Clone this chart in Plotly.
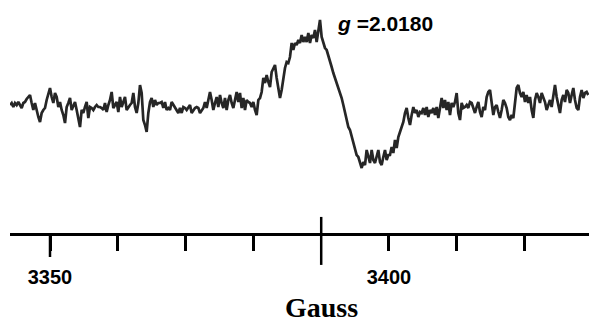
import numpy as np
import plotly.graph_objects as go

# EPR first-derivative spectrum, field sweep in Gauss
FIELD_START = 3344.1
FIELD_END = 3429.4

# signal intensity (arbitrary units), sampled along the sweep, in order
seg_a = [0, 2, -2, 2, 0, 3, 0, -3, 2, 3, 6, 8, 10, 2, -5, 2, -7, -12, -17, -8,
         -5, -3, 5, 12, 17, 8, 2, 12, 8, -2, 3, -5, -10, -18, -2, 2, 7, -5, 0, 3,
         -5, -12, -22, -5, -8, -2, 3, -13, -2, -3, -5, -2, 0, -2]
seg_b = [-2, -3, -5, 2, -7, 0, 5, 13, -3, 0, 3, -7, 8, -2, 3, 8, -5, -2, 0, 2,
         12, -2, -8, 2, 20, 12, -15, -20, -27, -8, 3, 7, -2, 5, 0, 2, 2, 3, -3, 3,
         -5, -3, -5, 3, 0, -3, -5, -8, -3, -8, -2, -3, -5, -2, 0, -8, -5, -3, -2, -3]
seg_c = [-8, -5, -3, 3, -3, 5, 13, 5, -5, 2, 8, -2, 10, 2, -3, 7, -5, 5, 10, 2,
         -3, 5, 13, 3, 12, -3, 7, -5, 5, 3, 2, -2, 3, -5, -10, 5, 7, 13, 27, 22,
         30, 23, 18, 33, 37, 40, 27, 18, 7, 15, 27, 37, 43, 42]
seg_d = [48, 62, 55, 62, 60, 65, 62, 70, 63, 68, 63, 72, 62, 70, 67, 75, 63, 73, 85, 68,
         62, 57, 55, 50, 45, 38, 32, 27, 23, 17, 12, 7, 0, -8, -17, -22, -25, -32, -38, -45,
         -50, -52, -57, -63, -57, -60, -45, -53, -58, -45, -55, -58, -52, -45, -57, -60, -52, -45, -55, -50]
seg_e = [-50, -42, -48, -35, -43, -32, -27, -22, -17, -8, -3, -13, -20, -10, -2, -8, -5, -12, -7, -8,
         -3, -10, -2, -12, -5, -8, -3, -10, -2, -13, -2, 7, -3, 5, -5, 3, -10, 2, -2, 3,
         12, -8, -15, 2, -3, -2, 0, -3, 3, 2, -3, -8, -2, 3, -7, -12, -2, -5, 8, 13]
seg_f = [15, 2, -10, -2, 0, -7, -13, -5, 5, 2, -3, -12, -15, -10, -13, 2, 17, 20, 12, 8,
         13, 3, 10, 2, 8, -5, -13, 5, 12, 8, 2, 12, 7, 3, -5, 0, 5, -2, 12, 20,
         8, -2, -8, 5, 10, 3, 15, 12, 2, 10, 17, 5, -3, -5, 8, 15, 7, 12, 13, 10]

intensity = seg_a + seg_b + seg_c + seg_d + seg_e + seg_f
field = np.linspace(FIELD_START, FIELD_END, len(intensity))

# axis ticks
minor_ticks = [3360, 3370, 3380, 3400, 3410, 3420]
label_ticks = [3350, 3400]
g_field = 3390
g_label = "<i>g</i> =2.0180"

tick_vals = [3350] + minor_ticks
tick_text = [str(v) if v in label_ticks else "" for v in tick_vals]

fig = go.Figure()
fig.add_trace(go.Scatter(
    x=field, y=intensity, mode="lines",
    line=dict(color="#262626", width=2.7),
    hoverinfo="skip", showlegend=False,
))

fig.update_xaxes(
    range=[FIELD_START, 3429.5],
    showgrid=False, zeroline=False,
    showline=True, linecolor="black", linewidth=2.5,
    ticks="outside", ticklen=15, tickwidth=2.5, tickcolor="black",
    tickvals=tick_vals, ticktext=tick_text,
    tickfont=dict(family="Liberation Sans", size=20, color="black", weight="bold"),
    ticklabelstandoff=9,
)
fig.update_yaxes(range=[-128, 105], visible=False)

# longer tick at 3350 and the crossing marker at the g-value field
fig.add_shape(type="line", xref="x", yref="paper", x0=3350, x1=3350,
              y0=0, y1=-0.103, line=dict(color="black", width=2.5))
fig.add_shape(type="line", xref="x", yref="paper", x0=g_field, x1=g_field,
              y0=0.069, y1=-0.137, line=dict(color="black", width=2.5))

fig.add_annotation(x=3392, y=82, xref="x", yref="y", text="<b>" + g_label + "</b>",
                   showarrow=False, xanchor="left", yanchor="middle",
                   font=dict(family="Liberation Sans", size=21, color="black"))
fig.add_annotation(x=g_field, y=-0.32, xref="x", yref="paper", text="<b>Gauss</b>",
                   showarrow=False, xanchor="center", yanchor="middle",
                   font=dict(family="Liberation Serif", size=28, color="black"))

fig.update_layout(
    width=589, height=324,
    margin=dict(l=10, r=0, t=0, b=91),
    paper_bgcolor="white", plot_bgcolor="white",
)

fig.write_html("out.html")
